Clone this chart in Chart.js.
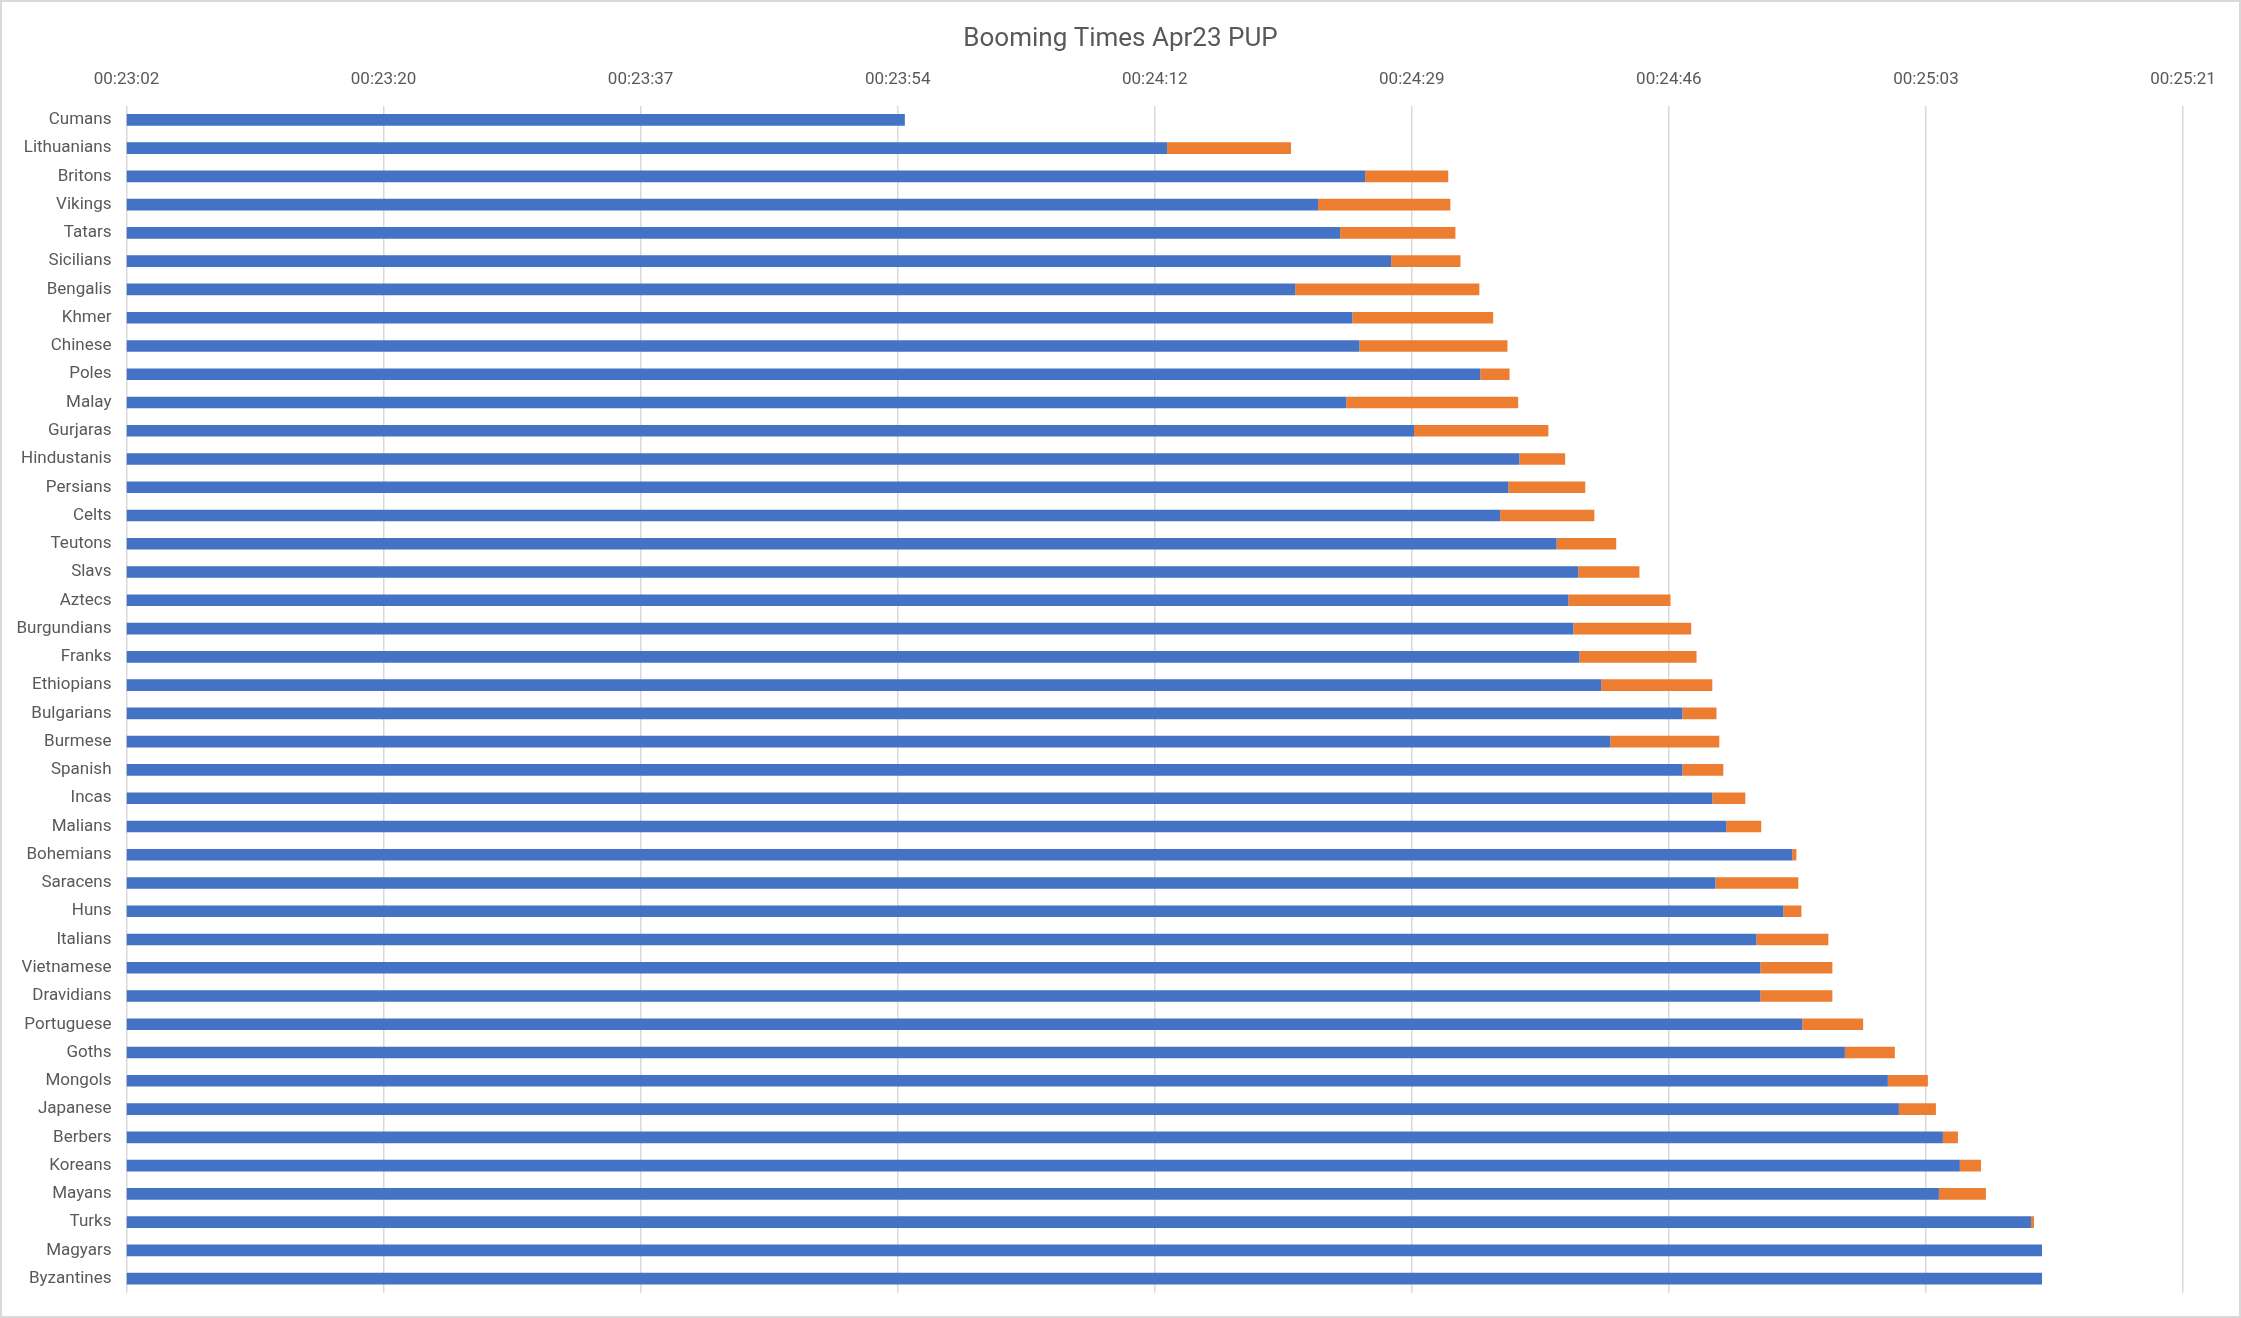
<!DOCTYPE html>
<html>
<head>
<meta charset="utf-8">
<title>Booming Times Apr23 PUP</title>
<script src="https://cdn.jsdelivr.net/npm/chart.js@4.4.1/dist/chart.umd.min.js"></script>
<style>
  html, body { margin: 0; padding: 0; background: #fff; }
  canvas { display: block; }
</style>
</head>
<body>
<canvas id="chart" width="2241" height="1318"></canvas>
<script>
// civs, top to bottom
const civs = ['Cumans', 'Lithuanians', 'Britons', 'Vikings', 'Tatars', 'Sicilians', 'Bengalis', 'Khmer',
  'Chinese', 'Poles', 'Malay', 'Gurjaras', 'Hindustanis', 'Persians', 'Celts', 'Teutons', 'Slavs',
  'Aztecs', 'Burgundians', 'Franks', 'Ethiopians', 'Bulgarians', 'Burmese', 'Spanish', 'Incas',
  'Malians', 'Bohemians', 'Saracens', 'Huns', 'Italians', 'Vietnamese', 'Dravidians', 'Portuguese',
  'Goths', 'Mongols', 'Japanese', 'Berbers', 'Koreans', 'Mayans', 'Turks', 'Magyars', 'Byzantines'];

// boom time in seconds (blue part ends here)
const boomTime = [1434.72, 1452.35, 1465.66, 1462.50, 1463.98, 1467.41, 1460.96, 1464.80,
  1465.28, 1473.41, 1464.39, 1468.95, 1476.03, 1475.28, 1474.74, 1478.53, 1479.99,
  1479.32, 1479.66, 1480.07, 1481.53, 1486.99, 1482.14, 1486.99, 1489.00,
  1489.94, 1494.37, 1489.21, 1493.78, 1491.96, 1492.23, 1492.23, 1495.04,
  1497.91, 1500.80, 1501.54, 1504.50, 1505.64, 1504.23, 1510.42, 1511.16, 1511.16];

// extra seconds (orange part)
const extraTime = [0, 8.33, 5.59, 8.89, 7.75, 4.66, 12.38, 9.47,
  9.95, 1.96, 11.56, 9.03, 3.08, 5.18, 6.33, 4.01, 4.11,
  6.87, 7.92, 7.87, 7.47, 2.29, 7.33, 2.75, 2.22,
  2.35, 0.28, 5.57, 1.21, 4.84, 4.84, 4.84, 4.10,
  3.36, 2.69, 2.49, 1.01, 1.42, 3.16, 0.20, 0, 0];

// axis ticks in seconds and their labels
const tickValues = [1382.4, 1399.68, 1416.96, 1434.24, 1451.52, 1468.8, 1486.08, 1503.36, 1520.64];
const tickLabels = ['00:23:02', '00:23:20', '00:23:37', '00:23:54', '00:24:12', '00:24:29', '00:24:46', '00:25:03', '00:25:21'];

const axisMin = tickValues[0];
const axisMax = tickValues[tickValues.length - 1];
const textGrey = '#595959';
const gridGrey = '#d9d9d9';

const frame = {
  id: 'frame',
  afterLayout(chart) {
    // centre the title on the whole canvas, not on the padded box
    const t = chart.titleBlock;
    if (t) { t.left = 0; t.right = chart.width; t.width = chart.width; }
  },
  beforeDraw(chart) {
    const c = chart.ctx;
    c.save();
    c.fillStyle = '#fff';
    c.fillRect(0, 0, chart.width, chart.height);
    c.strokeStyle = gridGrey;
    c.lineWidth = 2;
    c.strokeRect(1, 1, chart.width - 2, chart.height - 2);
    c.restore();
  }
};

new Chart(document.getElementById('chart'), {
  type: 'bar',
  data: {
    labels: civs,
    datasets: [{
      label: 'Boom',
      data: boomTime.map(t => [axisMin, t]),
      backgroundColor: '#4472C4',
      grouped: false,
      categoryPercentage: 1,
      barPercentage: 0.41
    }, {
      label: 'Extra',
      data: boomTime.map((t, i) => [t, t + extraTime[i]]),
      backgroundColor: '#ED7D31',
      grouped: false,
      categoryPercentage: 1,
      barPercentage: 0.41
    }]
  },
  options: {
    indexAxis: 'y',
    responsive: false,
    animation: false,
    devicePixelRatio: 1,
    layout: { padding: { left: 0, right: 58, top: 0, bottom: 12 } },
    plugins: {
      legend: { display: false },
      tooltip: { enabled: false },
      title: {
        display: true,
        text: 'Booming Times Apr23 PUP',
        color: textGrey,
        font: { family: 'Roboto', size: 26, weight: 'normal' },
        padding: { top: 24, bottom: 0 }
      }
    },
    scales: {
      x: {
        position: 'top',
        min: axisMin,
        max: axisMax,
        afterBuildTicks: scale => { scale.ticks = tickValues.map(v => ({ value: v })); },
        afterFit: scale => { scale.height = 50.5; },
        ticks: {
          color: textGrey,
          font: { family: 'Roboto', size: 17 },
          padding: 16,
          maxRotation: 0,
          callback: (v, i) => tickLabels[i]
        },
        grid: { color: gridGrey, lineWidth: 1.5, drawTicks: false },
        border: { display: false }
      },
      y: {
        afterFit: scale => { scale.width = 126.5; },
        ticks: {
          color: textGrey,
          font: { family: 'Roboto', size: 17 },
          padding: 15,
          autoSkip: false
        },
        grid: { display: false, drawTicks: false },
        border: { display: false }
      }
    }
  },
  plugins: [frame]
});
</script>
</body>
</html>
